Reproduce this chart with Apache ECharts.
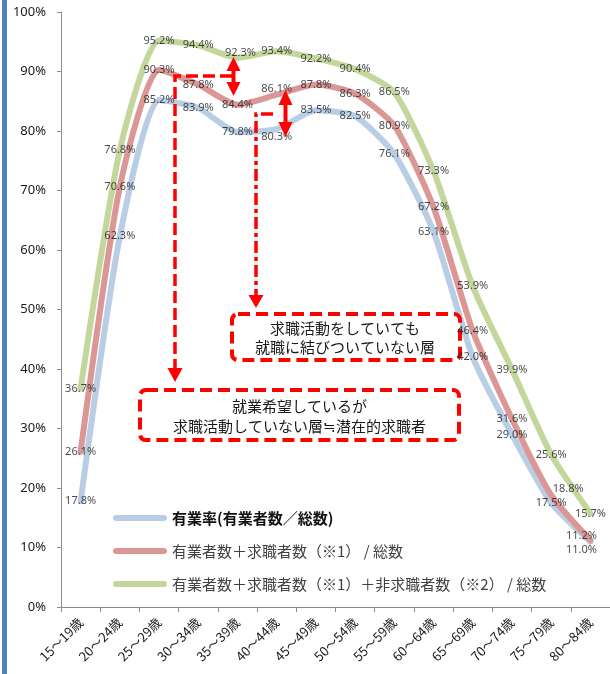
<!DOCTYPE html>
<html>
<head>
<meta charset="utf-8">
<script src="https://cdn.jsdelivr.net/npm/echarts@6/dist/echarts.min.js"></script>
<style>
  html, body { margin: 0; padding: 0; background: #fff; }
  #chart { width: 610px; height: 674px; }
</style>
</head>
<body>
<div id="chart"></div>
<script>
// Age groups on the x axis
const ageGroups = ['15～19歳', '20～24歳', '25～29歳', '30～34歳', '35～39歳', '40～44歳', '45～49歳',
  '50～54歳', '55～59歳', '60～64歳', '65～69歳', '70～74歳', '75～79歳', '80～84歳'];

// 有業率 (有業者数／総数), %
const employedRate = [17.8, 62.3, 85.2, 83.9, 79.8, 80.3, 83.5, 82.5, 76.1, 63.1, 42.0, 29.0, 17.5, 11.0];
// (有業者数＋求職者数) ／総数, %
const withSeekers = [26.1, 70.6, 90.3, 87.8, 84.4, 86.1, 87.8, 86.3, 80.9, 67.2, 46.4, 31.6, 18.8, 11.2];
// (有業者数＋求職者数＋非求職者数) ／総数, %
const withNonSeekers = [36.7, 76.8, 95.2, 94.4, 92.3, 93.4, 92.2, 90.4, 86.5, 73.3, 53.9, 39.9, 25.6, 15.7];

const yTicks = [0, 10, 20, 30, 40, 50, 60, 70, 80, 90, 100];

const seriesNames = [
  '有業率(有業者数／総数)',
  '有業者数＋求職者数（※1） / 総数',
  '有業者数＋求職者数（※1）＋非求職者数（※2） / 総数'
];
const seriesColors = ['#B9CDE5', '#DB9795', '#C3D69B'];

// Nudges for data labels that would otherwise collide
const labelNudge = [
  { 5: [0, 8], 13: [-9, 8] },
  { 5: [0, -6], 12: [17, -6], 13: [-9, -5] },
  { 4: [3, -5] }
];

const jpFont = '"Noto Sans CJK JP", "Noto Sans", sans-serif';

function lineSeries(values, idx) {
  return {
    name: seriesNames[idx],
    type: 'line',
    color: seriesColors[idx],
    data: values,
    smooth: 0.2,
    showSymbol: false,
    lineStyle: { width: 6, color: seriesColors[idx], cap: 'round', join: 'round' },
    itemStyle: { color: seriesColors[idx] },
    emphasis: { disabled: true },
    silent: true,
    z: 2
  };
}

// Value labels sit in their own layer so every line stays underneath them
function labelSeries(values, idx) {
  return {
    name: 'labels-' + idx,
    type: 'scatter',
    data: values.map((v, i) => {
      const item = { value: v };
      if (labelNudge[idx][i]) item.label = { offset: labelNudge[idx][i] };
      return item;
    }),
    symbol: 'circle',
    symbolSize: 1,
    itemStyle: { color: 'rgba(0,0,0,0)' },
    label: {
      show: true,
      position: 'inside',
      formatter: p => p.value.toFixed(1) + '%',
      fontSize: 11,
      fontFamily: '"Noto Sans", sans-serif',
      color: '#1a1a1a'
    },
    emphasis: { disabled: true },
    silent: true,
    z: 8
  };
}

const chart = echarts.init(document.getElementById('chart'), null, { renderer: 'canvas' });

const dashRed = '#FF0000';

chart.setOption({
  backgroundColor: '#ffffff',
  animation: false,
  grid: { left: 61, top: 12, width: 553.6, height: 595, containLabel: false },
  xAxis: {
    type: 'category',
    data: ageGroups,
    boundaryGap: true,
    axisLine: { lineStyle: { color: '#8C8C8C', width: 1 } },
    axisTick: { show: true, length: 5, lineStyle: { color: '#8C8C8C' } },
    axisLabel: {
      interval: 0,
      rotate: 45,
      margin: 13,
      fontSize: 13,
      fontFamily: jpFont,
      color: '#1a1a1a'
    },
    splitLine: { show: false }
  },
  yAxis: {
    type: 'value',
    min: yTicks[0],
    max: yTicks[yTicks.length - 1],
    interval: yTicks[1] - yTicks[0],
    axisLine: { show: true, lineStyle: { color: '#8C8C8C', width: 1 } },
    axisTick: { show: true, length: 4, lineStyle: { color: '#8C8C8C' } },
    axisLabel: {
      formatter: '{value}%',
      margin: 15,
      fontSize: 13,
      fontFamily: '"Noto Sans", sans-serif',
      color: '#1a1a1a'
    },
    splitLine: { show: false }
  },
  legend: {
    orient: 'vertical',
    left: 108,
    top: 503,
    itemWidth: 54,
    itemHeight: 6,
    itemGap: 13,
    icon: 'path://M3,0 L51,0 A3,3 0 0 1 51,6 L3,6 A3,3 0 0 1 3,0 Z',
    textStyle: { fontSize: 15, fontFamily: jpFont, color: '#404040', lineHeight: 20 },
    data: [
      { name: seriesNames[0], textStyle: { fontWeight: 'bold', color: '#111111' } },
      { name: seriesNames[1] },
      { name: seriesNames[2] }
    ],
    selectedMode: false
  },
  series: [
    lineSeries(employedRate, 0),
    lineSeries(withSeekers, 1),
    lineSeries(withNonSeekers, 2),
    labelSeries(employedRate, 0),
    labelSeries(withSeekers, 1),
    labelSeries(withNonSeekers, 2)
  ],
  graphic: [
    // blue edge bar on the left
    { type: 'rect', left: 2, top: 0, shape: { width: 5, height: 674 }, style: { fill: '#4F81BD' }, z: 10 },

    // dashed leader: gap between green and red lines -> lower box
    { type: 'polyline', shape: { points: [[232, 76], [175, 76], [175, 368]] },
      style: { stroke: dashRed, lineWidth: 3.5, lineDash: [12, 5], fill: null }, z: 20 },
    { type: 'polygon', shape: { points: [[167.5, 368], [182.5, 368], [175, 382]] },
      style: { fill: dashRed }, z: 20 },

    // dash-dot leader: gap between red and blue lines -> upper box
    { type: 'polyline', shape: { points: [[273, 114], [256, 114], [256, 295]] },
      style: { stroke: dashRed, lineWidth: 3.5, lineDash: [12, 4, 4, 4], fill: null }, z: 20 },
    { type: 'polygon', shape: { points: [[248.5, 295], [263.5, 295], [256, 308]] },
      style: { fill: dashRed }, z: 20 },

    // double arrow between 92.3% and 84.4%
    { type: 'line', shape: { x1: 233.5, y1: 70, x2: 233.5, y2: 83 },
      style: { stroke: dashRed, lineWidth: 4 }, z: 20 },
    { type: 'polygon', shape: { points: [[226.5, 71], [240.5, 71], [233.5, 57]] },
      style: { fill: dashRed }, z: 20 },
    { type: 'polygon', shape: { points: [[226.5, 82], [240.5, 82], [233.5, 96]] },
      style: { fill: dashRed }, z: 20 },

    // double arrow between 86.1% and 80.3%
    { type: 'line', shape: { x1: 285.5, y1: 104, x2: 285.5, y2: 123 },
      style: { stroke: dashRed, lineWidth: 4 }, z: 20 },
    { type: 'polygon', shape: { points: [[278.5, 105], [292.5, 105], [285.5, 90]] },
      style: { fill: dashRed }, z: 20 },
    { type: 'polygon', shape: { points: [[278.5, 122], [292.5, 122], [285.5, 137]] },
      style: { fill: dashRed }, z: 20 },

    // upper callout box (kept beneath the value labels)
    { type: 'rect', shape: { x: 232, y: 314, width: 228, height: 46, r: 6 },
      style: { fill: '#ffffff', stroke: dashRed, lineWidth: 4, lineDash: [12, 6] }, z: 5 },
    { type: 'text', x: 345, y: 338, z: 6,
      style: { text: '求職活動をしていても\n就職に結びついていない層', align: 'center', verticalAlign: 'middle',
        font: '15px ' + jpFont, fill: '#1a1a1a', lineHeight: 19 } },

    // lower callout box
    { type: 'rect', shape: { x: 140, y: 390, width: 319, height: 50, r: 6 },
      style: { fill: '#ffffff', stroke: dashRed, lineWidth: 4, lineDash: [12, 6] }, z: 5 },
    { type: 'text', x: 299.5, y: 416.5, z: 6,
      style: { text: '就業希望しているが\n求職活動していない層≒潜在的求職者', align: 'center', verticalAlign: 'middle',
        font: '15px ' + jpFont, fill: '#1a1a1a', lineHeight: 20 } }
  ]
});
</script>
</body>
</html>
